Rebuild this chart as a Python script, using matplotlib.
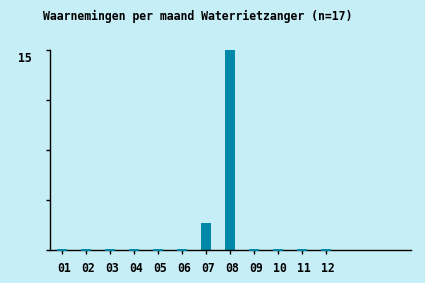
import matplotlib
matplotlib.use("Agg")
import matplotlib.pyplot as plt
import matplotlib.transforms as mtransforms

months = ["01", "02", "03", "04", "05", "06", "07", "08", "09", "10", "11", "12"]
counts = [0, 0, 0, 0, 0, 0, 2, 15, 0, 0, 0, 0]
title = "Waarnemingen per maand Waterrietzanger (n=17)"
ymax = 15

bg = "#c6eef6"
barc = "#0088a8"

fig = plt.figure(figsize=(4.25, 2.83), dpi=100, facecolor=bg)
ax = fig.add_axes([50/425, 33/283, 361/425, 200/283], facecolor=bg)

xs = list(range(1, len(months) + 1))
stub = 0.08
for x, v in zip(xs, counts):
    if v > 0:
        ax.bar(x, v, width=0.38, color=barc, zorder=1)
    else:
        ax.bar(x, 2 * stub, bottom=-stub, width=0.38, color=barc, zorder=3, clip_on=False)

ax.set_xlim(0.5, 15.54)
ax.set_ylim(0, ymax)
for s in ["top", "right"]:
    ax.spines[s].set_visible(False)
for s in ["left", "bottom"]:
    ax.spines[s].set_color("black")
    ax.spines[s].set_linewidth(1)
    ax.spines[s].set_zorder(2)

ax.set_xticks(xs)
ax.set_xticklabels(months)
ax.set_yticks([0, ymax/4, ymax/2, 3*ymax/4, ymax])
ax.set_yticklabels(["", "", "", "", str(ymax)])
font = dict(family="DejaVu Sans Mono", weight="bold", size=8.3)
ax.tick_params(axis="both", length=3, width=1, color="black", direction="out")
ax.tick_params(axis="x", pad=6)
ax.tick_params(axis="y", pad=10)
for lbl in ax.get_xticklabels() + ax.get_yticklabels():
    lbl.set_fontfamily("DejaVu Sans Mono")
    lbl.set_fontweight("bold")
    lbl.set_fontsize(8.3)
shift_x = mtransforms.ScaledTranslation(2/100, 0, fig.dpi_scale_trans)
for lbl in ax.get_xticklabels():
    lbl.set_transform(lbl.get_transform() + shift_x)
shift_y = mtransforms.ScaledTranslation(0, -7/100, fig.dpi_scale_trans)
for lbl in ax.get_yticklabels():
    lbl.set_transform(lbl.get_transform() + shift_y)

fig.text(43/425, 1 - 16/283, title, ha="left", va="center", **font)

fig.savefig("out.png", dpi=100, facecolor=bg)
